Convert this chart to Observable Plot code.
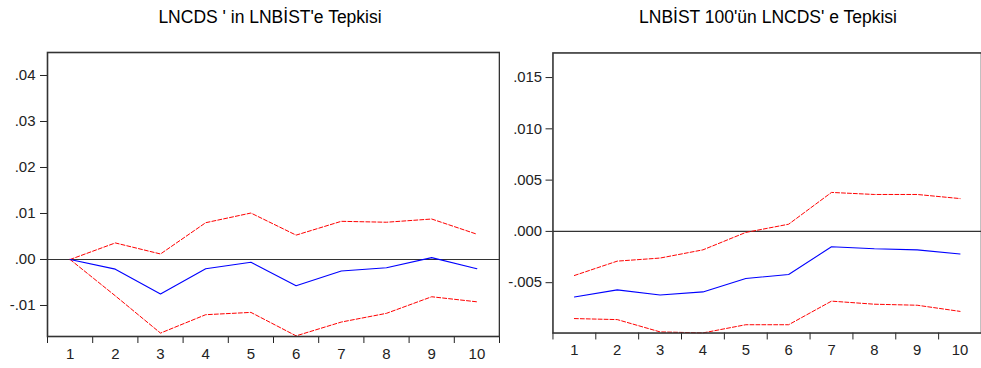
<!DOCTYPE html>
<html>
<head>
<meta charset="utf-8">
<script src="https://cdn.jsdelivr.net/npm/d3@7"></script>
<script src="https://cdn.jsdelivr.net/npm/@observablehq/plot@0.6"></script>
<style>
  html, body { margin: 0; padding: 0; background: #fff; overflow: hidden; }
  #wrap { position: relative; width: 981px; height: 368px; overflow: hidden; font-family: "Liberation Sans", Arial, sans-serif; }
  .panel { position: absolute; top: 0; }
  .title { position: absolute; top: 6px; font-size: 17.5px; color: #000; white-space: nowrap; transform: translateX(-50%); line-height: 22px; }
</style>
</head>
<body>
<div id="wrap">
  <div class="panel" id="left"></div>
  <div class="panel" id="right" style="left:500px"></div>
  <div class="title" id="t1" style="left:270px"></div>
  <div class="title" id="t2" style="left:768px"></div>
</div>
<script>
const titles = ["LNCDS ' in LNBİST'e Tepkisi", "LNBİST 100'ün LNCDS' e Tepkisi"];
const periods = [1, 2, 3, 4, 5, 6, 7, 8, 9, 10];

const leftResponse = [0, -0.0021, -0.0075, -0.0020, -0.0006, -0.0057, -0.0025, -0.0018, 0.0004, -0.0020];
const leftUpper    = [0, 0.0036, 0.0012, 0.0080, 0.0101, 0.0053, 0.0083, 0.0081, 0.0088, 0.0055];
const leftLower    = [0, -0.0079, -0.0160, -0.0120, -0.0115, -0.0166, -0.0136, -0.0117, -0.0081, -0.0092];

const rightResponse = [-0.0064, -0.0057, -0.0062, -0.0059, -0.0046, -0.0042, -0.0015, -0.0017, -0.0018, -0.0022];
const rightUpper    = [-0.0043, -0.0029, -0.0026, -0.0018, -0.0001, 0.0007, 0.0038, 0.0036, 0.0036, 0.0032];
const rightLower    = [-0.0085, -0.0086, -0.0098, -0.0099, -0.0091, -0.0091, -0.0068, -0.0071, -0.0072, -0.0078];

const leftYTicks = [-0.01, 0, 0.01, 0.02, 0.03, 0.04];
const leftYLabels = ["-.01", ".00", ".01", ".02", ".03", ".04"];
const rightYTicks = [-0.005, 0, 0.005, 0.010, 0.015];
const rightYLabels = ["-.005", ".000", ".005", ".010", ".015"];
const xLabels = ["1", "2", "3", "4", "5", "6", "7", "8", "9", "10"];

document.getElementById("t1").textContent = titles[0];
document.getElementById("t2").textContent = titles[1];

function panel({response, upper, lower, yDomain, yTicks, yLabels, width, marginLeft, marginRight, marginTop, marginBottom, yPad}) {
  const rows = periods.map((p, i) => ({p, r: response[i], u: upper[i], l: lower[i]}));
  const bounds = periods.map((p, i) => p - 0.5).concat([periods[periods.length - 1] + 0.5]);
  return Plot.plot({
    width, height: 368,
    marginLeft, marginRight, marginTop, marginBottom,
    style: {fontFamily: '"Liberation Sans", Arial, sans-serif', color: "#222", background: "#fff"},
    x: {domain: [0.5, 10.5]},
    y: {domain: yDomain},
    marks: [
      Plot.ruleY([0], {stroke: "#333", strokeWidth: 1.2}),
      Plot.line(rows, {x: "p", y: "u", stroke: "#ff0000", strokeWidth: 1, strokeDasharray: "4,2"}),
      Plot.line(rows, {x: "p", y: "l", stroke: "#ff0000", strokeWidth: 1, strokeDasharray: "4,2"}),
      Plot.line(rows, {x: "p", y: "r", stroke: "#0000ff", strokeWidth: 1.1}),
      Plot.axisY({ticks: yTicks, tickFormat: d => yLabels[yTicks.indexOf(d)], tickSize: 7, tickPadding: yPad, fontSize: 15, label: null}),
      Plot.axisX({ticks: bounds, tickFormat: () => "", tickSize: 7, label: null}),
      Plot.axisX({ticks: periods, tickFormat: d => xLabels[periods.indexOf(d)], tickSize: 0, tickPadding: 12, fontSize: 15, label: null}),
      Plot.frame({stroke: "#333", strokeWidth: 1.6})
    ]
  });
}

document.getElementById("left").appendChild(panel({
  response: leftResponse, upper: leftUpper, lower: leftLower,
  yDomain: [-0.01674, 0.045], yTicks: leftYTicks, yLabels: leftYLabels,
  width: 500, marginLeft: 47, marginRight: 1, marginTop: 52, marginBottom: 32, yPad: 5
}));
document.getElementById("right").appendChild(panel({
  response: rightResponse, upper: rightUpper, lower: rightLower,
  yDomain: [-0.00991, 0.0174], yTicks: rightYTicks, yLabels: rightYLabels,
  width: 486, marginLeft: 53, marginRight: 0, marginTop: 53, marginBottom: 32, yPad: 4
}));
</script>
</body>
</html>
